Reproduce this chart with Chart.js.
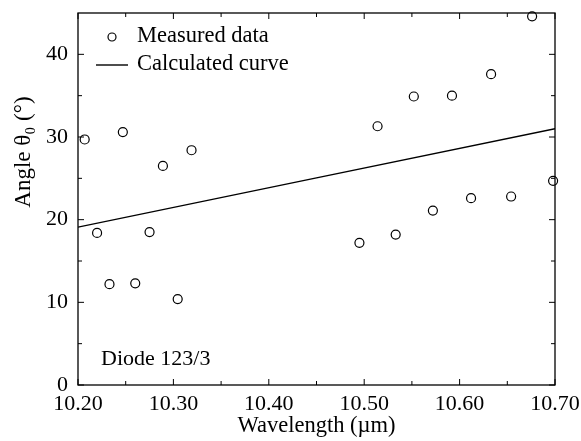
<!DOCTYPE html>
<html><head><meta charset="utf-8">
<script src="https://cdn.jsdelivr.net/npm/chart.js@4/dist/chart.umd.min.js"></script>
<style>html,body{margin:0;padding:0;background:#fff}#wrap{width:581px;height:441px}</style>
</head><body><div id="wrap"><canvas id="c" width="581" height="441"></canvas></div>
<script>
// Measured data (wavelength in µm, angle in degrees)
const measuredX = [10.207, 10.220, 10.233, 10.247, 10.260, 10.275, 10.289, 10.3045, 10.319,
                   10.495, 10.514, 10.533, 10.552, 10.572, 10.592, 10.612, 10.633, 10.654, 10.676, 10.698];
const measuredY = [29.7, 18.4, 12.2, 30.6, 12.3, 18.5, 26.5, 10.4, 28.4,
                   17.2, 31.3, 18.2, 34.9, 21.1, 35.0, 22.6, 37.6, 22.8, 44.6, 24.7];
// Calculated curve
const curveX = [10.20, 10.45, 10.70];
const curveY = [19.1, 25.05, 31.0];
// Axis ticks
const xTicks = [10.20, 10.30, 10.40, 10.50, 10.60, 10.70];
const xMinorTicks = [10.25, 10.35, 10.45, 10.55, 10.65];
const yTicks = [0, 10, 20, 30, 40];
const yMinorTicks = [5, 15, 25, 35];
const seriesLabels = ['Measured data', 'Calculated curve'];
const annotationText = 'Diode 123/3';
const xTitle = 'Wavelength (µm)';
const yTitle = 'Angle θ₀ (°)';

const FONT = "'Liberation Serif', 'DejaVu Serif', serif";

const framePlugin = {
  id: 'frame',
  afterDraw(chart) {
    const ctx = chart.ctx, a = chart.chartArea;
    const xs = chart.scales.x, ys = chart.scales.y;
    ctx.save();
    ctx.strokeStyle = '#000';
    ctx.lineWidth = 1.3;
    ctx.strokeRect(a.left, a.top, a.right - a.left, a.bottom - a.top);
    ctx.lineWidth = 1;
    ctx.beginPath();
    const major = 6, minor = 4;
    xTicks.concat(xMinorTicks).forEach(v => {
      const L = xTicks.includes(v) ? major : minor;
      const px = xs.getPixelForValue(v);
      ctx.moveTo(px, a.bottom); ctx.lineTo(px, a.bottom - L);
      ctx.moveTo(px, a.top); ctx.lineTo(px, a.top + L);
    });
    yTicks.concat(yMinorTicks).forEach(v => {
      const L = yTicks.includes(v) ? major : minor;
      const py = ys.getPixelForValue(v);
      ctx.moveTo(a.left, py); ctx.lineTo(a.left + L, py);
      ctx.moveTo(a.right, py); ctx.lineTo(a.right - L, py);
    });
    ctx.stroke();

    // legend
    ctx.font = '22.5px ' + FONT;
    ctx.fillStyle = '#000';
    ctx.textBaseline = 'middle';
    ctx.textAlign = 'left';
    const ly1 = a.top + 23, ly2 = a.top + 51;
    ctx.beginPath();
    ctx.lineWidth = 1.2;
    ctx.arc(a.left + 34, a.top + 24, 4, 0, Math.PI * 2);
    ctx.stroke();
    ctx.beginPath();
    ctx.lineWidth = 1.4;
    ctx.moveTo(a.left + 18, a.top + 52); ctx.lineTo(a.left + 50, a.top + 52);
    ctx.stroke();
    ctx.fillText(seriesLabels[0], a.left + 59, ly1);
    ctx.fillText(seriesLabels[1], a.left + 59, ly2);

    // annotation
    ctx.font = '22px ' + FONT;
    ctx.fillText(annotationText, a.left + 23, a.bottom - 26);

    // y title
    ctx.font = '23px ' + FONT;
    ctx.textAlign = 'center';
    ctx.translate(24, a.top + 139);
    ctx.rotate(-Math.PI / 2);
    ctx.fillText(yTitle, 0, 0);
    ctx.restore();
  }
};

new Chart(document.getElementById('c'), {
  type: 'scatter',
  data: {
    datasets: [
      {
        label: seriesLabels[0],
        data: measuredX.map((x, i) => ({x, y: measuredY[i]})),
        pointStyle: 'circle',
        pointRadius: 4.5,
        pointBorderWidth: 1.2,
        borderColor: '#000',
        backgroundColor: 'rgba(255,255,255,0)',
        showLine: false,
        clip: false
      },
      {
        label: seriesLabels[1],
        data: curveX.map((x, i) => ({x, y: curveY[i]})),
        showLine: true,
        borderColor: '#000',
        borderWidth: 1.4,
        pointRadius: 0,
        fill: false,
        tension: 0
      }
    ]
  },
  options: {
    responsive: false,
    animation: false,
    devicePixelRatio: 1,
    layout: {padding: {top: 13, right: 26, left: 0, bottom: 0}},
    plugins: {legend: {display: false}, tooltip: {enabled: false}},
    scales: {
      x: {
        type: 'linear', min: 10.20, max: 10.70,
        afterFit(s) { s.height = 56; s.paddingLeft = 0; s.paddingRight = 0; },
        afterBuildTicks(s) { s.ticks = xTicks.map(v => ({value: v})); },
        grid: {display: false, drawTicks: false},
        border: {display: false},
        ticks: {padding: 6, color: '#000', font: {family: FONT, size: 22},
                maxRotation: 0, autoSkip: false,
                callback: v => Number(v).toFixed(2)},
        title: {display: true, text: xTitle, color: '#000',
                font: {family: FONT, size: 22.5}, padding: {top: 0, bottom: 1}}
      },
      y: {
        type: 'linear', min: 0, max: 45,
        afterFit(s) { s.width = 78; s.paddingTop = 0; s.paddingBottom = 0; },
        afterBuildTicks(s) { s.ticks = yTicks.map(v => ({value: v})); },
        grid: {display: false, drawTicks: false},
        border: {display: false},
        ticks: {padding: 10, color: '#000', font: {family: FONT, size: 22}},
        title: {display: false}
      }
    }
  },
  plugins: [framePlugin]
});
</script>
</body></html>
